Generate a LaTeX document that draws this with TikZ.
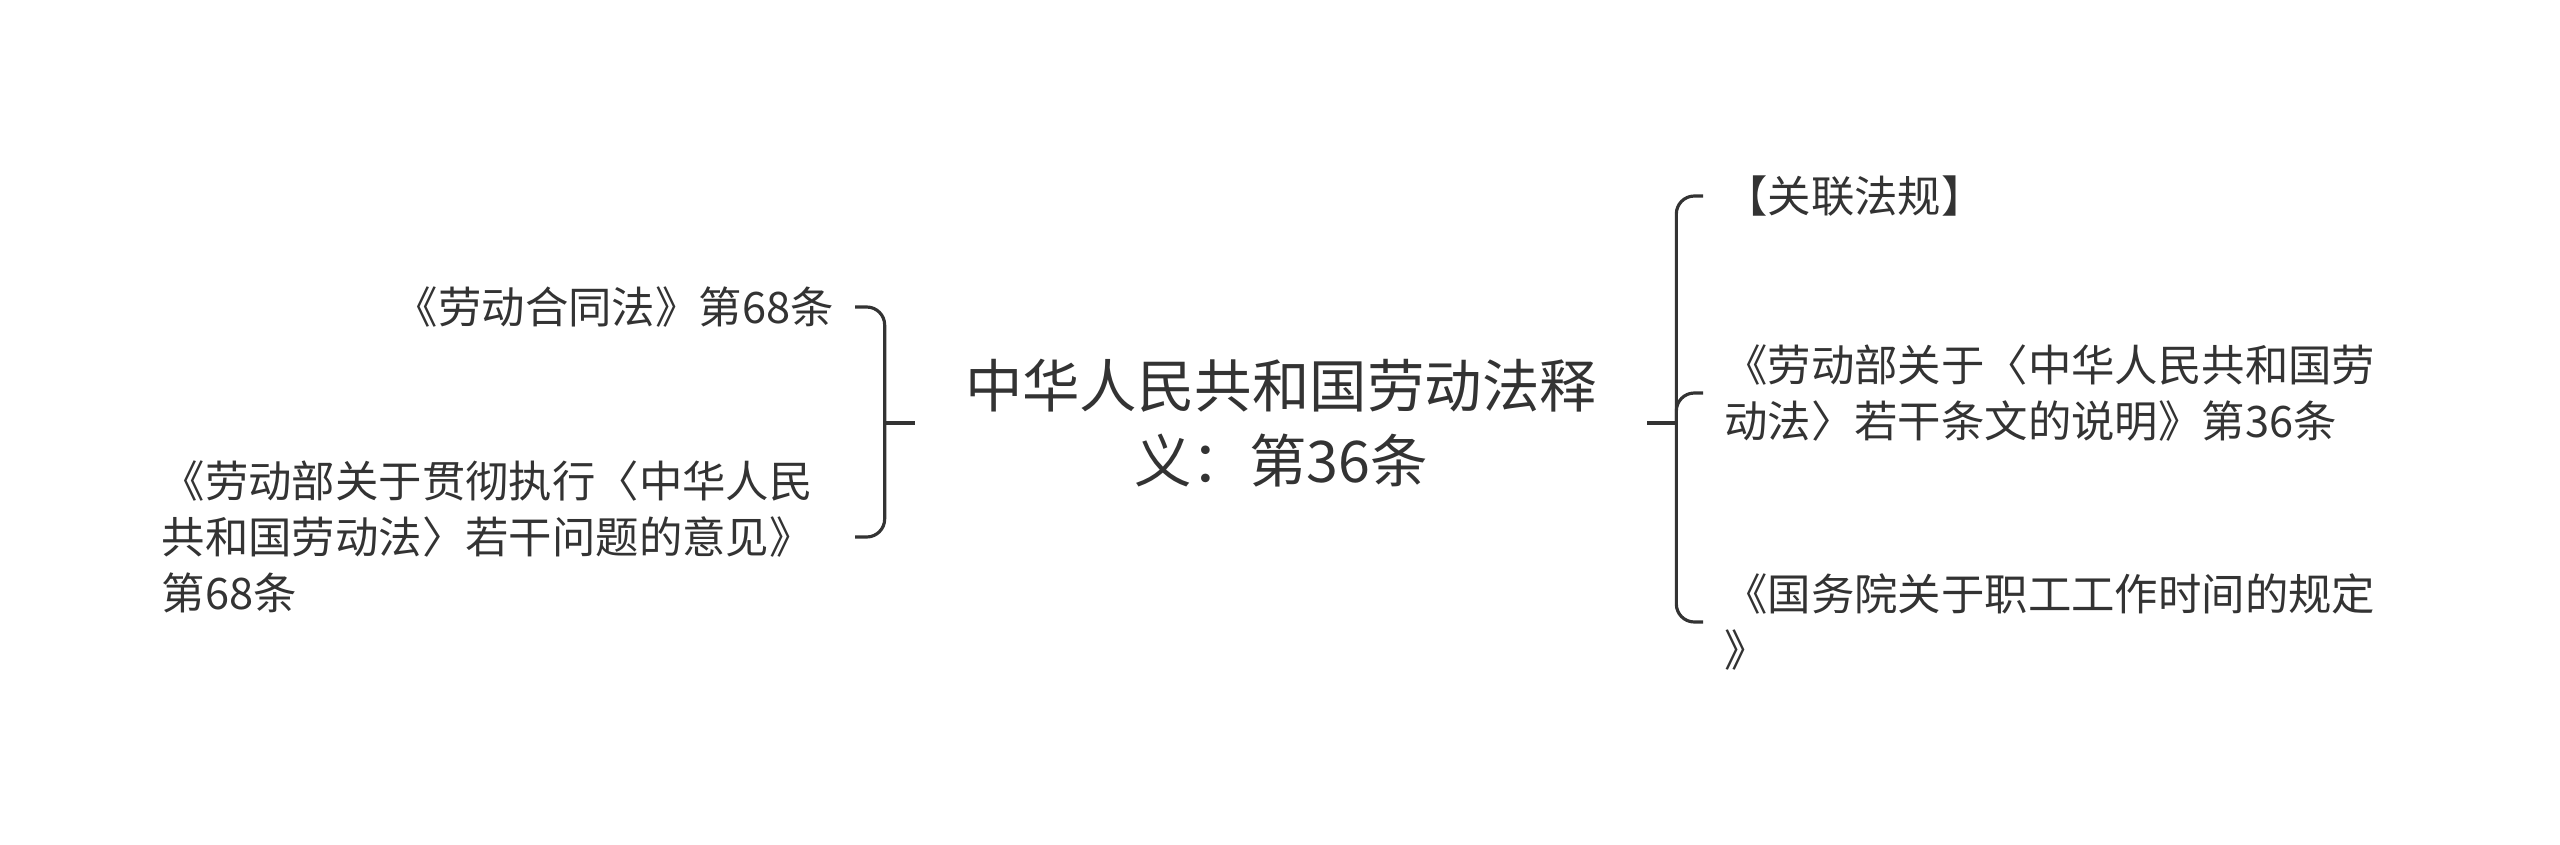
\documentclass[tikz,border=0pt]{standalone}
\usepackage{fontspec}
\newfontfamily\cjk{Noto Sans CJK SC}
\usetikzlibrary{calc}
\definecolor{ink}{HTML}{333333}

\begin{document}
\begin{tikzpicture}[
        x=0.02cm, y=-0.02cm,
        root/.style={align=center, inner xsep=1cm, inner ysep=0pt, text=ink, font=\cjk\fontsize{32.7}{42.5}\selectfont},
        leaf/.style={align=left, inner xsep=0.42cm, inner ysep=0pt, text=ink, font=\cjk\fontsize{24.7}{31.7}\selectfont},
        link/.style={draw=ink, line width=1.8pt, rounded corners=0.36cm}
    ]
    \useasboundingbox (0,0) rectangle (2560,845);
    \node[root] (law) at (1281,423) {中华人民共和国劳动法释\\义：第36条};
    \node[leaf, anchor=east] (contract) at (855,307) {《劳动合同法》第68条};
    \node[leaf, anchor=east, text width=13.44cm] (opinion) at (855,537) {《劳动部关于贯彻执行〈中华人民\\共和国劳动法〉若干问题的意见》\\第68条};
    \node[leaf, anchor=west] (related) at (1703,196) {【关联法规】};
    \node[leaf, anchor=west] (notes) at (1703,393) {《劳动部关于〈中华人民共和国劳\\动法〉若干条文的说明》第36条};
    \node[leaf, anchor=west] (rules) at (1703,622) {《国务院关于职工工作时间的规定\\》};
    \coordinate (lj) at ($(law.west)+(-30,0)$);
    \coordinate (rj) at ($(law.east)+(29,0)$);
    \draw[link] (law.west) -- (lj);
    \draw[link] (lj) |- (contract.east);
    \draw[link] (lj) |- (opinion.east);
    \draw[link] (law.east) -- (rj);
    \foreach \n in {related, notes, rules}
        \draw[link] (rj) |- (\n.west);
\end{tikzpicture}
\end{document}
